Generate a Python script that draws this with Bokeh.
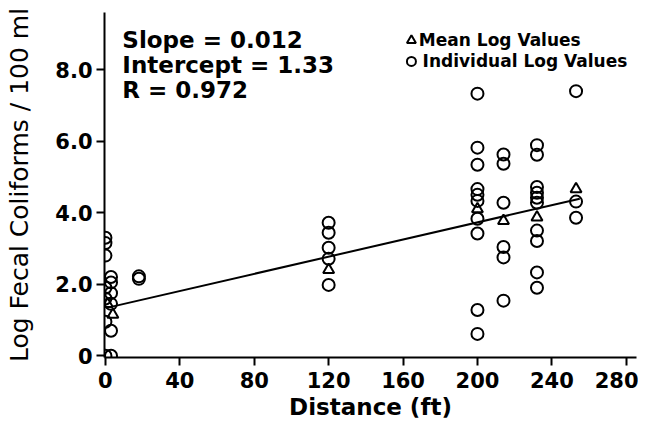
from bokeh.plotting import figure
from bokeh.models import Range1d, FixedTicker, Label, ColumnDataSource
from bokeh.embed import file_html
from bokeh.resources import INLINE

# ---------------- data ----------------
ind_x = [0, 0, 0, 0, 0, 0, 0,
         3, 3, 3, 3, 3, 3,
         18, 18,
         120, 120, 120, 120, 120,
         200, 200, 200, 200, 200, 200, 200, 200, 200, 200,
         214, 214, 214, 214, 214, 214,
         232, 232, 232, 232, 232, 232, 232, 232, 232, 232,
         253, 253, 253]
ind_y = [3.30, 3.15, 2.80, 1.90, 1.60, 0.95, 0.00,
         2.20, 2.05, 1.75, 1.45, 0.70, 0.00,
         2.15, 2.22,
         3.72, 3.44, 3.02, 2.71, 1.98,
         7.33, 5.82, 5.34, 4.66, 4.50, 4.33, 3.83, 3.42, 1.28, 0.61,
         5.63, 5.37, 4.28, 3.04, 2.75, 1.54,
         5.89, 5.62, 4.72, 4.56, 4.42, 4.28, 3.50, 3.21, 2.33, 1.90,
         7.40, 4.31, 3.86]
mean_x = [1, 4, 120, 200, 214, 232, 253]
mean_y = [1.45, 1.15, 2.40, 4.10, 3.77, 3.87, 4.66]

slope = 0.012
intercept = 1.33
r_value = 0.972
fit_x = [3, 255]
fit_y = [intercept + slope * v for v in fit_x]

x_ticks = [0, 40, 80, 120, 160, 200, 240, 280]
y_ticks = [0, 2, 4, 6, 8]
y_tick_labels = ["0", "2.0", "4.0", "6.0", "8.0"]

x_title = "Distance (ft)"
y_title = "Log Fecal Coliforms / 100 ml"
stat_lines = ["Slope = %.3f" % slope, "Intercept = %.2f" % intercept, "R = %.3f" % r_value]
legend_items = ["Mean Log Values", "Individual Log Values"]

# ---------------- figure ----------------
FONT = "DejaVu Sans"
p = figure(width=638, height=425, output_backend="svg", toolbar_location=None,
           x_range=Range1d(-0.5, 285.5), y_range=Range1d(-0.05, 9.6),
           min_border_left=104, min_border_right=2, min_border_top=12, min_border_bottom=68)
p.outline_line_color = None
p.grid.visible = False
p.background_fill_color = "white"
p.border_fill_color = "white"

for ax in (p.xaxis[0], p.yaxis[0]):
    ax.axis_line_width = 2
    ax.axis_line_color = "black"
    ax.major_tick_line_width = 2
    ax.major_tick_line_color = "black"
    ax.major_tick_out = 8
    ax.major_tick_in = 0
    ax.minor_tick_line_color = None
    ax.major_label_text_font = FONT
    ax.major_label_text_font_style = "bold"
    ax.major_label_text_font_size = "21px"
    ax.major_label_text_color = "black"
    ax.axis_label_text_color = "black"
    ax.axis_label_text_font = FONT

p.xaxis.ticker = FixedTicker(ticks=x_ticks)
p.yaxis.ticker = FixedTicker(ticks=y_ticks)
p.yaxis.major_label_overrides = {t: s for t, s in zip(y_ticks, y_tick_labels)}
p.xaxis.major_label_standoff = 6
p.yaxis.major_label_standoff = 4

p.xaxis.axis_label = x_title
p.xaxis.axis_label_text_font_style = "bold"
p.xaxis.axis_label_text_font_size = "23px"
p.xaxis.axis_label_standoff = 3

p.yaxis.axis_label = y_title
p.yaxis.axis_label_text_font_style = "normal"
p.yaxis.axis_label_text_font_size = "25px"
p.yaxis.axis_label_standoff = 18

# regression line
p.line(fit_x, fit_y, line_color="black", line_width=2)

# individual values
src_i = ColumnDataSource(dict(x=ind_x, y=ind_y))
p.scatter("x", "y", source=src_i, marker="circle", size=12, fill_color=None,
          line_color="black", line_width=2)

# means
src_m = ColumnDataSource(dict(x=mean_x, y=mean_y))
p.scatter("x", "y", source=src_m, marker="triangle", size=11, fill_color=None,
          line_color="black", line_width=2)

# stats text
for i, s in enumerate(stat_lines):
    p.add_layout(Label(x=9.1, y=8.82 - 0.7 * i, text=s, text_font=FONT,
                       text_font_style="bold", text_font_size="23px",
                       text_baseline="middle", text_align="left", text_color="black"))

# legend (manual)
leg_x = 164.5
leg_y = [8.82, 8.23]
leg_text_x = [168.5, 170.5]
p.scatter([leg_x], [leg_y[0]], marker="triangle", size=9, fill_color=None,
          line_color="black", line_width=2)
p.scatter([leg_x], [leg_y[1]], marker="circle", size=9, fill_color=None,
          line_color="black", line_width=2)
for tx, yy, s in zip(leg_text_x, leg_y, legend_items):
    p.add_layout(Label(x=tx, y=yy, text=s, text_font=FONT,
                       text_font_style="bold", text_font_size="17px",
                       text_baseline="middle", text_align="left", text_color="black"))

open("out.html", "w").write(file_html(p, INLINE))
